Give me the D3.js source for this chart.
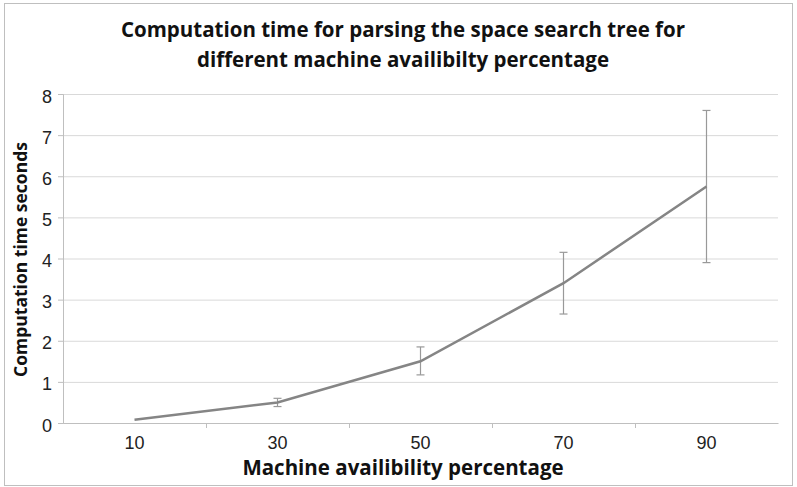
<!DOCTYPE html>
<html lang="en">
<head>
  <meta charset="UTF-8">
  <title>Computation time chart</title>
  <script src="https://d3js.org/d3.v7.min.js"></script>
  <style>
    body { margin: 0; background: #fff; }
    svg { display: block; font-family: "Open Sans", "Liberation Sans", sans-serif; }
    .tick-label { font-size: 18px; fill: #222; }
    .axis-title { font-weight: bold; fill: #111; }
    .chart-title { font-size: 20.5px; font-weight: bold; fill: #111; }
  </style>
</head>
<body>
  <svg id="chart" width="797" height="487"></svg>
  <script>
    // Data
    const categories = ["10", "30", "50", "70", "90"];
    const meanTime = [0.08, 0.5, 1.5, 3.4, 5.75];
    const errLow = [0.08, 0.4, 1.17, 2.65, 3.9];
    const errHigh = [0.08, 0.6, 1.85, 4.15, 7.6];
    const yTicks = [0, 1, 2, 3, 4, 5, 6, 7, 8];

    const margin = {top: 94, right: 19, bottom: 64, left: 63};
    const width = 797 - margin.left - margin.right;
    const height = 487 - margin.top - margin.bottom;

    const root = d3.select("#chart");

    // outer frame
    root.append("rect")
      .attr("x", 4.5).attr("y", 3.5)
      .attr("width", 788).attr("height", 482)
      .attr("fill", "none")
      .attr("stroke", "#bfbfbf");

    // title
    const title = root.append("text")
      .attr("class", "chart-title")
      .attr("text-anchor", "middle")
      .attr("x", 403).attr("y", 37);
    title.append("tspan").attr("x", 403).attr("dy", 0)
      .text("Computation time for parsing the space search tree for");
    title.append("tspan").attr("x", 403).attr("dy", 30)
      .text("different machine availibilty percentage");

    const svg = root.append("g")
      .attr("transform", `translate(${margin.left},${margin.top})`);

    const x = d3.scaleBand().domain(categories).range([0, width]);
    const y = d3.scaleLinear().domain([0, 8]).range([height, 0]);

    // gridlines
    svg.selectAll(".grid")
      .data(yTicks)
      .enter().append("line")
      .attr("class", "grid")
      .attr("x1", 0).attr("x2", width)
      .attr("y1", d => y(d) + 0.5).attr("y2", d => y(d) + 0.5)
      .attr("stroke", "#d9d9d9");

    // y axis
    const yAxis = svg.append("g")
      .call(d3.axisLeft(y).tickValues(yTicks).tickSize(5).tickPadding(6));
    yAxis.select(".domain").attr("stroke", "#bfbfbf");
    yAxis.selectAll(".tick line").attr("stroke", "#bfbfbf");
    yAxis.selectAll(".tick text").attr("class", "tick-label").attr("dy", "0.45em")
      .attr("font-size", null).attr("font-family", null);

    // x axis
    const xAxis = svg.append("g")
      .attr("transform", `translate(0,${height})`)
      .call(d3.axisBottom(x).tickSize(0).tickPadding(13));
    xAxis.select(".domain").attr("stroke", "#bfbfbf");
    xAxis.selectAll(".tick text").attr("class", "tick-label").attr("font-size", null).attr("font-family", null);

    // category boundary ticks
    svg.selectAll(".xsep")
      .data(categories.slice(1))
      .enter().append("line")
      .attr("class", "xsep")
      .attr("x1", d => x(d) + 0.5).attr("x2", d => x(d) + 0.5)
      .attr("y1", height).attr("y2", height + 5)
      .attr("stroke", "#bfbfbf");

    const cx = c => x(c) + x.bandwidth() / 2;

    // error bars
    const err = svg.append("g").attr("stroke", "#999").attr("stroke-width", 1.2);
    categories.forEach((c, i) => {
      if (errHigh[i] - errLow[i] <= 0) return;
      err.append("line")
        .attr("x1", cx(c)).attr("x2", cx(c))
        .attr("y1", y(errLow[i])).attr("y2", y(errHigh[i]));
      [errLow[i], errHigh[i]].forEach(v => {
        err.append("line")
          .attr("x1", cx(c) - 4).attr("x2", cx(c) + 4)
          .attr("y1", y(v)).attr("y2", y(v));
      });
    });

    // series line
    const line = d3.line()
      .x((d, i) => cx(categories[i]))
      .y(d => y(d));
    svg.append("path")
      .datum(meanTime)
      .attr("d", line)
      .attr("fill", "none")
      .attr("stroke", "#858585")
      .attr("stroke-width", 2.5);

    // axis titles
    root.append("text")
      .attr("class", "axis-title")
      .attr("font-size", "17.5px")
      .attr("text-anchor", "middle")
      .attr("transform", `translate(27,${margin.top + height / 2 + 1}) rotate(-90)`)
      .text("Computation time seconds");

    root.append("text")
      .attr("class", "axis-title")
      .attr("font-size", "20.5px")
      .attr("text-anchor", "middle")
      .attr("x", 403).attr("y", 475)
      .text("Machine availibility percentage");
  </script>
</body>
</html>
